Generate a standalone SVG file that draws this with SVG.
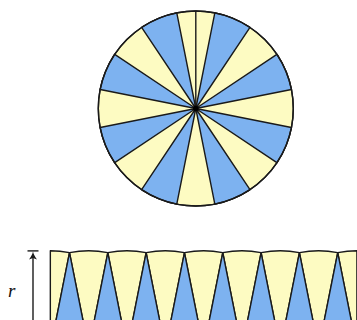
<svg xmlns="http://www.w3.org/2000/svg" width="357" height="320" viewBox="0 0 357 320">
<defs>
<style>
.y{fill:#fdfbc2;stroke:#1a1a1a;stroke-width:1.4;stroke-linejoin:round}
.b{fill:#7db2f0;stroke:#1a1a1a;stroke-width:1.4;stroke-linejoin:round}
.ln{stroke:#1a1a1a;stroke-width:1.4;fill:none}
.lbl{font-family:"Liberation Serif",serif;font-style:italic;font-size:19px;fill:#111}
</style>
</defs>
<rect width="357" height="320" fill="#fff"/>
<g id="circle">
<circle cx="195.8" cy="108.5" r="97.5" class="y"/>
<path class="b" d="M195.8,108.5 L214.82,12.87 A97.5,97.5 0 0 1 249.97,27.43 Z"/>
<path class="b" d="M195.8,108.5 L276.87,54.33 A97.5,97.5 0 0 1 291.43,89.48 Z"/>
<path class="b" d="M195.8,108.5 L291.43,127.52 A97.5,97.5 0 0 1 276.87,162.67 Z"/>
<path class="b" d="M195.8,108.5 L249.97,189.57 A97.5,97.5 0 0 1 214.82,204.13 Z"/>
<path class="b" d="M195.8,108.5 L176.78,204.13 A97.5,97.5 0 0 1 141.63,189.57 Z"/>
<path class="b" d="M195.8,108.5 L114.73,162.67 A97.5,97.5 0 0 1 100.17,127.52 Z"/>
<path class="b" d="M195.8,108.5 L100.17,89.48 A97.5,97.5 0 0 1 114.73,54.33 Z"/>
<path class="b" d="M195.8,108.5 L141.63,27.43 A97.5,97.5 0 0 1 176.78,12.87 Z"/>
<line class="ln" x1="195.8" y1="108.5" x2="195.8" y2="11"/>
<circle cx="195.8" cy="108.5" r="97.5" class="ln"/>
<circle cx="195.8" cy="108.5" r="2.8" fill="#000"/>
</g>
<g id="strip">
<path class="y" d="M50.34,348.91 L50.34,250.71 A98.2,98.2 0 0 1 69.5,252.6 Z"/>
<path class="y" d="M88.66,348.91 L69.5,252.6 A98.2,98.2 0 0 1 107.82,252.6 Z"/>
<path class="y" d="M126.98,348.91 L107.82,252.6 A98.2,98.2 0 0 1 146.14,252.6 Z"/>
<path class="y" d="M165.3,348.91 L146.14,252.6 A98.2,98.2 0 0 1 184.46,252.6 Z"/>
<path class="y" d="M203.62,348.91 L184.46,252.6 A98.2,98.2 0 0 1 222.78,252.6 Z"/>
<path class="y" d="M241.94,348.91 L222.78,252.6 A98.2,98.2 0 0 1 261.1,252.6 Z"/>
<path class="y" d="M280.26,348.91 L261.1,252.6 A98.2,98.2 0 0 1 299.42,252.6 Z"/>
<path class="y" d="M318.58,348.91 L299.42,252.6 A98.2,98.2 0 0 1 337.74,252.6 Z"/>
<path class="y" d="M356.9,348.91 L337.74,252.6 A98.2,98.2 0 0 1 356.9,250.71 Z"/>
<path class="b" d="M69.5,252.6 L88.66,348.91 A98.2,98.2 0 0 1 50.34,348.91 Z"/>
<path class="b" d="M107.82,252.6 L126.98,348.91 A98.2,98.2 0 0 1 88.66,348.91 Z"/>
<path class="b" d="M146.14,252.6 L165.3,348.91 A98.2,98.2 0 0 1 126.98,348.91 Z"/>
<path class="b" d="M184.46,252.6 L203.62,348.91 A98.2,98.2 0 0 1 165.3,348.91 Z"/>
<path class="b" d="M222.78,252.6 L241.94,348.91 A98.2,98.2 0 0 1 203.62,348.91 Z"/>
<path class="b" d="M261.1,252.6 L280.26,348.91 A98.2,98.2 0 0 1 241.94,348.91 Z"/>
<path class="b" d="M299.42,252.6 L318.58,348.91 A98.2,98.2 0 0 1 280.26,348.91 Z"/>
<path class="b" d="M337.74,252.6 L356.9,348.91 A98.2,98.2 0 0 1 318.58,348.91 Z"/>
</g>
<g id="radius-arrow">
<line class="ln" x1="27.5" y1="250.9" x2="38.5" y2="250.9"/>
<line class="ln" x1="33" y1="256" x2="33" y2="349"/>
<path d="M33,251.6 C33.6,254.5 35.4,257.5 37,259.5 L33,258 L29,259.5 C30.6,257.5 32.4,254.5 33,251.6 Z" fill="#1a1a1a"/>
<text class="lbl" x="8" y="297">r</text>
</g>
</svg>
